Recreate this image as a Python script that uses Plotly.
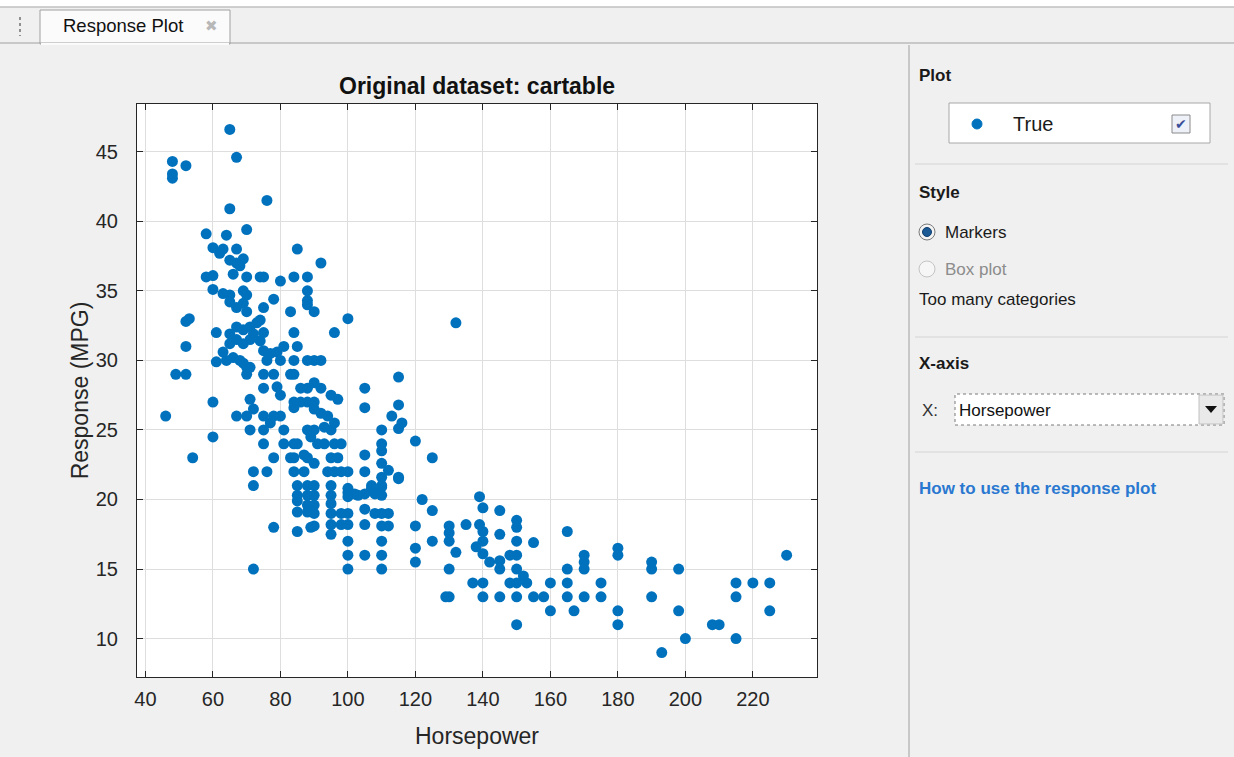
import plotly.graph_objects as go

# Horsepower vs MPG (approximate, overlapping points merged)
hp_top = [65, 67, 48, 52, 48, 48, 76, 65, 58, 64, 70, 85, 60, 63, 62, 67, 65, 67, 69, 68,
          58, 60, 66, 70, 74, 75, 80, 84, 60, 63, 65, 69, 70, 78, 65, 67, 69, 70, 75, 83,
          52, 53, 61, 65, 67, 69, 71, 73, 74, 75, 72, 67, 69, 65, 71, 74, 52, 63, 61, 64,
          66, 68, 69, 70, 71, 70, 75, 77, 79, 76, 80, 49, 52, 75, 78, 83, 75, 79, 80, 71,
          72, 60, 46, 67, 70, 75, 78, 80, 84, 71, 75, 77, 81, 60, 75, 81, 84, 54, 78, 83,
          72, 76, 72, 84, 78, 72, 81]
mpg_top = [46.6, 44.6, 44.3, 44.0, 43.4, 43.1, 41.5, 40.9, 39.1, 39.0, 39.4, 38.0, 38.1, 38.0, 37.7, 38.0, 37.2, 37.0, 37.3, 36.8,
           36.0, 36.1, 36.2, 36.0, 36.0, 36.0, 35.7, 36.0, 35.1, 34.8, 34.7, 35.0, 34.7, 34.4, 34.2, 33.8, 34.1, 33.5, 33.8, 33.5,
           32.8, 33.0, 32.0, 31.9, 32.4, 32.2, 32.4, 32.7, 32.9, 32.0, 31.9, 31.5, 31.2, 31.2, 31.5, 31.4, 31.0, 30.6, 29.9, 30.0,
           30.2, 30.0, 29.8, 29.5, 29.5, 29.0, 30.7, 30.5, 30.6, 30.0, 30.0, 29.0, 29.0, 29.0, 29.0, 29.0, 28.0, 28.1, 27.5, 27.2,
           26.5, 27.0, 26.0, 26.0, 26.0, 26.0, 26.0, 26.0, 27.0, 25.0, 25.0, 25.5, 25.0, 24.5, 24.0, 24.0, 24.0, 23.0, 23.0, 23.0,
           22.0, 22.0, 21.0, 22.0, 18.0, 15.0, 31.0]

hp_mid = [92, 88, 88, 88, 88, 90, 100, 96, 132, 84, 85, 84, 90, 84, 86, 88, 90, 92, 95, 97,
          86, 88, 90, 84, 90, 92, 94, 96, 88, 90, 93, 95, 89, 91, 93, 96, 98, 85, 84, 87,
          88, 90, 95, 97, 87, 94, 96, 98, 100, 105, 105, 115, 115, 113, 116, 115, 110, 120, 125, 110,
          110, 105, 110, 112, 115, 105, 107, 110, 95, 100, 92, 88]
mpg_mid = [37.0, 36.0, 35.0, 34.3, 34.0, 33.5, 33.0, 32.0, 32.7, 32.0, 31.0, 30.0, 30.0, 29.0, 28.0, 28.0, 28.4, 28.0, 27.5, 27.2,
           27.0, 27.0, 27.0, 26.6, 26.5, 26.2, 26.0, 25.5, 25.0, 25.0, 25.2, 25.0, 24.5, 24.0, 24.0, 24.0, 24.0, 24.0, 23.0, 23.2,
           23.0, 22.6, 23.0, 23.0, 22.0, 22.0, 22.0, 22.0, 22.0, 28.0, 26.6, 28.8, 26.8, 26.0, 25.5, 25.1, 25.0, 24.2, 23.0, 24.0,
           23.5, 23.2, 22.6, 22.1, 21.6, 22.0, 21.0, 21.0, 21.0, 20.8, 30.0, 30.0]

hp_low = [85, 85, 85, 85, 85, 88, 88, 88, 88, 90, 90, 90, 90, 90, 89, 95, 95, 95, 95, 95,
          98, 98, 100, 100, 100, 100, 100, 100, 100, 102, 103, 105, 105, 105, 105, 107, 108, 108, 110, 110,
          110, 110, 110, 110, 110, 110, 112, 112, 115, 122, 125, 120, 120, 120, 125, 130, 130, 130, 130, 129,
          130, 132]
mpg_low = [21.0, 20.3, 19.9, 19.1, 17.7, 21.0, 20.3, 19.6, 19.1, 21.0, 20.3, 19.6, 19.0, 18.1, 18.0, 20.3, 19.7, 19.0, 18.2, 17.5,
           19.0, 18.2, 20.5, 20.2, 19.0, 18.2, 17.0, 16.0, 15.0, 20.4, 20.3, 20.4, 19.3, 18.2, 16.0, 20.8, 20.4, 19.0, 21.6, 20.9,
           20.3, 19.0, 18.1, 17.0, 16.0, 15.0, 19.0, 18.1, 21.5, 20.0, 19.2, 18.1, 16.5, 15.5, 17.0, 18.1, 17.6, 17.0, 15.0, 13.0,
           13.0, 16.2]

hp_high = [139, 140, 145, 135, 139, 140, 140, 145, 150, 150, 150, 155, 138, 140, 142, 145, 145, 148, 150, 150,
           152, 153, 137, 140, 148, 150, 140, 145, 150, 155, 158, 150, 160, 160, 165, 165, 165, 165, 167, 170,
           170, 170, 170, 175, 175, 180, 180, 180, 180, 190, 190, 190, 193, 198, 198, 200, 208, 210, 215, 215,
           215, 220, 225, 225, 230]
mpg_high = [20.2, 19.4, 19.2, 18.2, 18.2, 17.7, 17.0, 17.5, 18.5, 18.0, 17.0, 16.9, 16.6, 16.1, 15.5, 15.6, 15.0, 16.0, 16.0, 15.0,
            14.5, 14.0, 14.0, 14.0, 14.0, 14.0, 13.0, 13.0, 13.0, 13.0, 13.0, 11.0, 14.0, 12.0, 17.7, 15.0, 14.0, 13.0, 12.0, 16.0,
            15.5, 15.0, 13.0, 14.0, 13.0, 16.5, 16.0, 12.0, 11.0, 15.5, 15.0, 13.0, 9.0, 15.0, 12.0, 10.0, 11.0, 11.0, 14.0, 13.0,
            10.0, 14.0, 14.0, 12.0, 16.0]

x_ticks = [40, 60, 80, 100, 120, 140, 160, 180, 200, 220]
y_ticks = [10, 15, 20, 25, 30, 35, 40, 45]

horsepower = hp_top + hp_mid + hp_low + hp_high
mpg = mpg_top + mpg_mid + mpg_low + mpg_high

#---------------------------------------

W, H = 1234, 757
L, R, T, B = 137, 817, 104, 677

def fx(px):
    return (px - L) / (R - L)

def fy(py):
    return (B - py) / (B - T)

blue = '#0072BD'
ink = '#262626'

fig = go.Figure(go.Scatter(
    x=horsepower, y=mpg, mode='markers',
    marker={'color': blue, 'size': 11, 'line': {'width': 0}},
    hoverinfo='x+y', showlegend=False))

shapes = []
ann = []

def rect(x0, y0, x1, y1, fill, line='#a0a0a0', width=1, dash='solid'):
    shapes.append(dict(type='rect', xref='paper', yref='paper',
                       x0=fx(x0), x1=fx(x1), y0=fy(y1), y1=fy(y0),
                       fillcolor=fill, line={'color': line, 'width': width, 'dash': dash},
                       layer='below'))

def hline(x0, x1, y, color='#d4d4d4', width=1):
    shapes.append(dict(type='line', xref='paper', yref='paper',
                       x0=fx(x0), x1=fx(x1), y0=fy(y), y1=fy(y),
                       line={'color': color, 'width': width}))

def vline(x, y0, y1, color='#a8a8a8', width=1, dash='solid'):
    shapes.append(dict(type='line', xref='paper', yref='paper',
                       x0=fx(x), x1=fx(x), y0=fy(y0), y1=fy(y1),
                       line={'color': color, 'width': width, 'dash': dash}))

def circle(cx, cy, r, fill, line='#8a8a8a', width=1):
    shapes.append(dict(type='circle', xref='paper', yref='paper',
                       x0=fx(cx - r), x1=fx(cx + r), y0=fy(cy + r), y1=fy(cy - r),
                       fillcolor=fill, line={'color': line, 'width': width}))

def text(px, py, s, size=17, color='#1a1a1a', bold=False, anchor='left', family='Liberation Sans'):
    if bold:
        s = '<b>' + s + '</b>'
    ann.append(dict(xref='paper', yref='paper', x=fx(px), y=fy(py), text=s,
                    showarrow=False, xanchor=anchor, yanchor='middle',
                    font={'size': size, 'color': color, 'family': family}))

# tab strip
rect(-2, -2, 1236, 7, '#ffffff', line='#ffffff')
hline(0, 1234, 7, color='#a0a0a0')
hline(0, 1234, 43, color='#a0a0a0')
rect(40, 10, 230, 44, '#fbfbfb', line='#a0a0a0')
hline(41, 229, 44, color='#fbfbfb', width=2)
vline(20, 17, 36, color='#909090', width=2, dash='dot')
text(61, 26, 'Response Plot', size=18.5, color='#111111')
text(211, 26, '✖', size=15, color='#b8b8b8', anchor='center')

# right options panel
vline(909, 45, 757, color='#a0a0a0')
text(917, 75, 'Plot', size=17, bold=True)
rect(949, 103, 1210, 143, '#ffffff', line='#a8a8a8')
circle(977, 124, 5, blue, line=blue)
text(1011, 124, 'True', size=20)
rect(1172, 115, 1190, 133, '#eef2f8', line='#8a8a8a')
text(1181, 124, '✔', size=14, color='#3a4f9a', anchor='center', family='DejaVu Sans')
hline(915, 1228, 164)
text(917, 192, 'Style', size=17, bold=True)
circle(927, 232, 8, '#f4f4f4', line='#7a7a7a')
circle(927, 232, 4.5, '#1c5a96', line='#0f3e6e')
text(943, 232, 'Markers', size=17)
circle(927, 269, 8, '#f6f6f6', line='#c4c4c4')
text(943, 269, 'Box plot', size=17, color='#8c8c8c')
text(917, 299, 'Too many categories', size=17)
hline(915, 1228, 337)
text(917, 363, 'X-axis', size=17, bold=True)
text(920, 410, 'X:', size=17, color='#333333')
rect(955, 394, 1224, 425, '#ffffff', line='#7a7a7a', dash='dot')
rect(1199, 395, 1223, 424, '#e9e9e9', line='#c0c0c0')
shapes.append(dict(type='path', xref='paper', yref='paper',
                   path='M %f %f L %f %f L %f %f Z' % (fx(1205), fy(406), fx(1217), fy(406), fx(1211), fy(413)),
                   fillcolor='#111111', line={'width': 0}))
text(957, 410, 'Horsepower', size=17, color='#111111')
hline(915, 1228, 452)
text(917, 488, 'How to use the response plot', size=17, color='#2a78d0', bold=True)

# title
text(477, 86, 'Original dataset: cartable', size=23, color='#111111', bold=True, anchor='center')

fig.update_layout(
    width=W, height=H,
    margin={'l': L, 'r': W - R, 't': T, 'b': H - B, 'pad': 0},
    paper_bgcolor='#f0f0f0', plot_bgcolor='#ffffff',
    font={'family': 'Liberation Sans', 'color': ink},
    shapes=shapes, annotations=ann,
    xaxis=dict(range=[37.5, 239], tickvals=x_ticks, ticks='inside', ticklen=6,
               tickcolor=ink, showline=True, linecolor=ink, linewidth=1, mirror='ticks',
               showgrid=True, gridcolor='#dedede', zeroline=False, ticklabelstandoff=4,
               tickfont={'size': 20, 'color': ink},
               title={'text': 'Horsepower', 'font': {'size': 23, 'color': ink}, 'standoff': 18}),
    yaxis=dict(range=[7.24, 48.43], tickvals=y_ticks, ticks='inside', ticklen=6,
               tickcolor=ink, showline=True, linecolor=ink, linewidth=1, mirror='ticks',
               showgrid=True, gridcolor='#dedede', zeroline=False, ticklabelstandoff=14,
               tickfont={'size': 20, 'color': ink},
               title={'text': 'Response (MPG)', 'font': {'size': 23, 'color': ink}, 'standoff': 0}),
)

fig.write_html("out.html", config={'displayModeBar': False},
               post_script="document.body.style.margin='0';")
